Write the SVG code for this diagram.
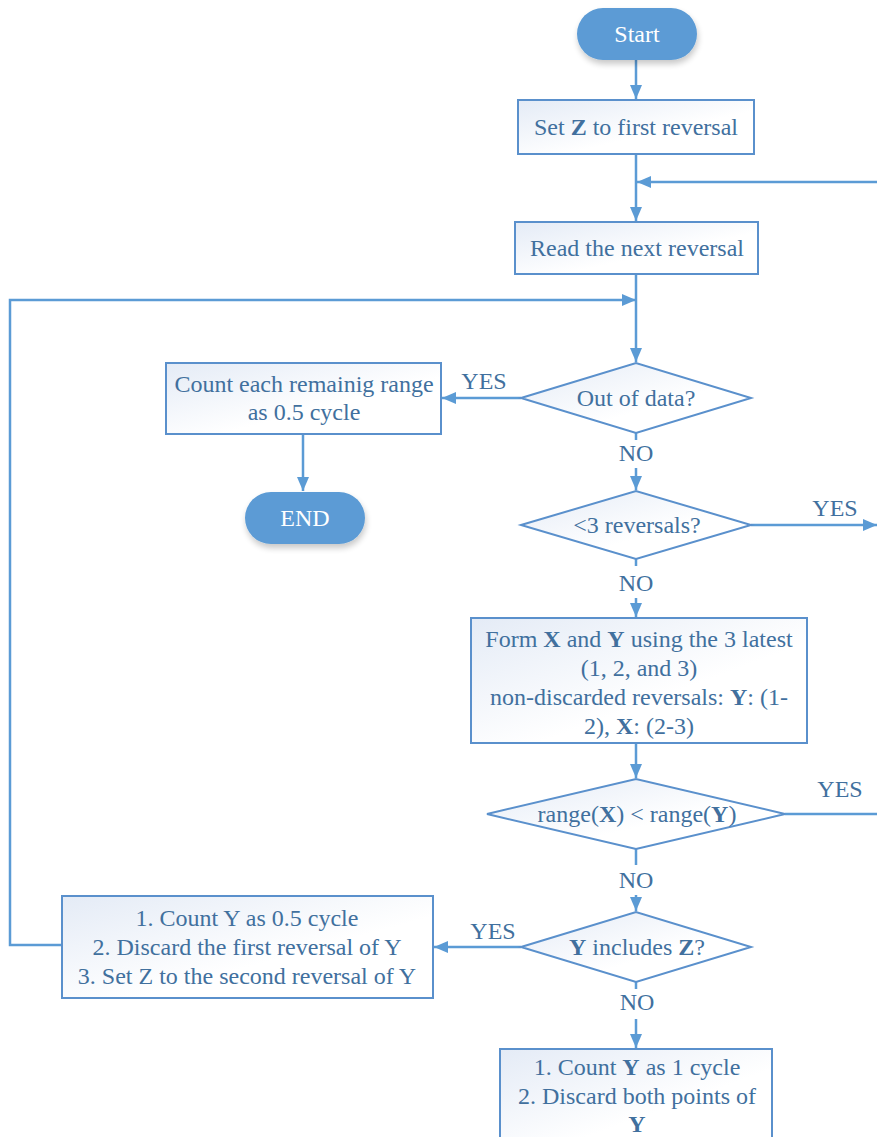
<svg xmlns="http://www.w3.org/2000/svg" width="877" height="1137" viewBox="0 0 877 1137">
<defs>
<linearGradient id="g" x1="0" y1="0" x2="1" y2="1">
<stop offset="0" stop-color="#E4EBF6"/>
<stop offset="0.6" stop-color="#FFFFFF"/>
</linearGradient>
<filter id="sh" x="-20%" y="-30%" width="140%" height="170%">
<feGaussianBlur in="SourceAlpha" stdDeviation="3"/>
<feOffset dx="1" dy="4" result="b"/>
<feComponentTransfer><feFuncA type="linear" slope="0.22"/></feComponentTransfer>
<feMerge><feMergeNode/><feMergeNode in="SourceGraphic"/></feMerge>
</filter>
<marker id="ar" viewBox="0 0 14 12" refX="14" refY="6" markerWidth="14" markerHeight="12" markerUnits="userSpaceOnUse" orient="auto">
<path d="M0,0 L14,6 L0,12 z" fill="#5B9BD5"/>
</marker>
</defs>
<style>
.t{font-family:"Liberation Serif","Times New Roman",serif;font-size:24px;fill:#41709E;text-anchor:middle}
.w{font-family:"Liberation Serif","Times New Roman",serif;font-size:24px;fill:#FFFFFF;text-anchor:middle}
.b{font-weight:bold}
.box{fill:url(#g);stroke:#5A90CC;stroke-width:2}
.pill{fill:#5B9BD5;filter:url(#sh)}
.c{fill:none;stroke:#5B9BD5;stroke-width:2.5}
</style>
<g id="connectors">
<path class="c" d="M636,60 V99" marker-end="url(#ar)"/>
<path class="c" d="M636,154 V221" marker-end="url(#ar)"/>
<path class="c" d="M877,182 H637" marker-end="url(#ar)"/>
<path class="c" d="M636,274 V362" marker-end="url(#ar)"/>
<path class="c" d="M62,945 H10 V300 H636" marker-end="url(#ar)"/>
<path class="c" d="M521,398 H442" marker-end="url(#ar)"/>
<path class="c" d="M303,434 V491" marker-end="url(#ar)"/>
<path class="c" d="M636,433 V440 M636,468 V490" marker-end="url(#ar)"/>
<path class="c" d="M751,525 H877" marker-end="url(#ar)"/>
<path class="c" d="M636,559 V566 M636,598 V617" marker-end="url(#ar)"/>
<path class="c" d="M636,743 V778" marker-end="url(#ar)"/>
<path class="c" d="M785,814 H877"/>
<path class="c" d="M636,849 V865 M636,895 V911" marker-end="url(#ar)"/>
<path class="c" d="M521,947 H434" marker-end="url(#ar)"/>
<path class="c" d="M636,982 V989 M636,1019 V1048" marker-end="url(#ar)"/>
<text class="t" x="484" y="389">YES</text>
<text class="t" x="636" y="461">NO</text>
<text class="t" x="835" y="516">YES</text>
<text class="t" x="636" y="591">NO</text>
<text class="t" x="840" y="797">YES</text>
<text class="t" x="636" y="888">NO</text>
<text class="t" x="493" y="939">YES</text>
<text class="t" x="637" y="1010">NO</text>
</g>
<g id="start">
<rect class="pill" x="577" y="8" width="120" height="52" rx="26"/>
<text class="w" x="637" y="42">Start</text>
</g>
<g id="setZ">
<rect class="box" x="518" y="100" width="236" height="54"/>
<text class="t" x="636" y="135">Set <tspan class="b">Z</tspan> to first reversal</text>
</g>
<g id="readNext">
<rect class="box" x="515" y="222" width="243" height="52"/>
<text class="t" x="637" y="256">Read the next reversal</text>
</g>
<g id="outOfData">
<path class="box" d="M521,398 L636,363 L751,398 L636,433 Z"/>
<text class="t" x="636" y="406">Out of data?</text>
</g>
<g id="countRemaining">
<rect class="box" x="166" y="363" width="275" height="71"/>
<text class="t" x="304" y="392">Count each remainig range</text>
<text class="t" x="304" y="420">as 0.5 cycle</text>
</g>
<g id="end">
<rect class="pill" x="245" y="492" width="120" height="52" rx="26"/>
<text class="w" x="305" y="526">END</text>
</g>
<g id="lt3">
<path class="box" d="M521,525 L636,491 L751,525 L636,559 Z"/>
<text class="t" x="637" y="533">&lt;3 reversals?</text>
</g>
<g id="formXY">
<rect class="box" x="471" y="618" width="336" height="125"/>
<text class="t" x="639" y="647">Form <tspan class="b">X</tspan> and <tspan class="b">Y</tspan> using the 3 latest</text>
<text class="t" x="639" y="676">(1, 2, and 3)</text>
<text class="t" x="639" y="705">non-discarded reversals: <tspan class="b">Y</tspan>: (1-</text>
<text class="t" x="639" y="734">2), <tspan class="b">X</tspan>: (2-3)</text>
</g>
<g id="rangeCmp">
<path class="box" d="M487,814 L636,779 L785,814 L636,849 Z"/>
<text class="t" x="637" y="822">range(<tspan class="b">X</tspan>) &lt; range(<tspan class="b">Y</tspan>)</text>
</g>
<g id="yIncludesZ">
<path class="box" d="M521,947 L636,912 L751,947 L636,982 Z"/>
<text class="t" x="637" y="955"><tspan class="b">Y</tspan> includes <tspan class="b">Z</tspan>?</text>
</g>
<g id="halfCycle">
<rect class="box" x="62" y="896" width="371" height="102"/>
<text class="t" x="247" y="926">1. Count Y as 0.5 cycle</text>
<text class="t" x="247" y="955">2. Discard the first reversal of Y</text>
<text class="t" x="247" y="984">3. Set Z to the second reversal of Y</text>
</g>
<g id="fullCycle">
<rect class="box" x="500" y="1049" width="272" height="100"/>
<text class="t" x="637" y="1075">1. Count <tspan class="b">Y</tspan> as 1 cycle</text>
<text class="t" x="637" y="1104">2. Discard both points of</text>
<text class="t" x="637" y="1132"><tspan class="b">Y</tspan></text>
</g>
</svg>
